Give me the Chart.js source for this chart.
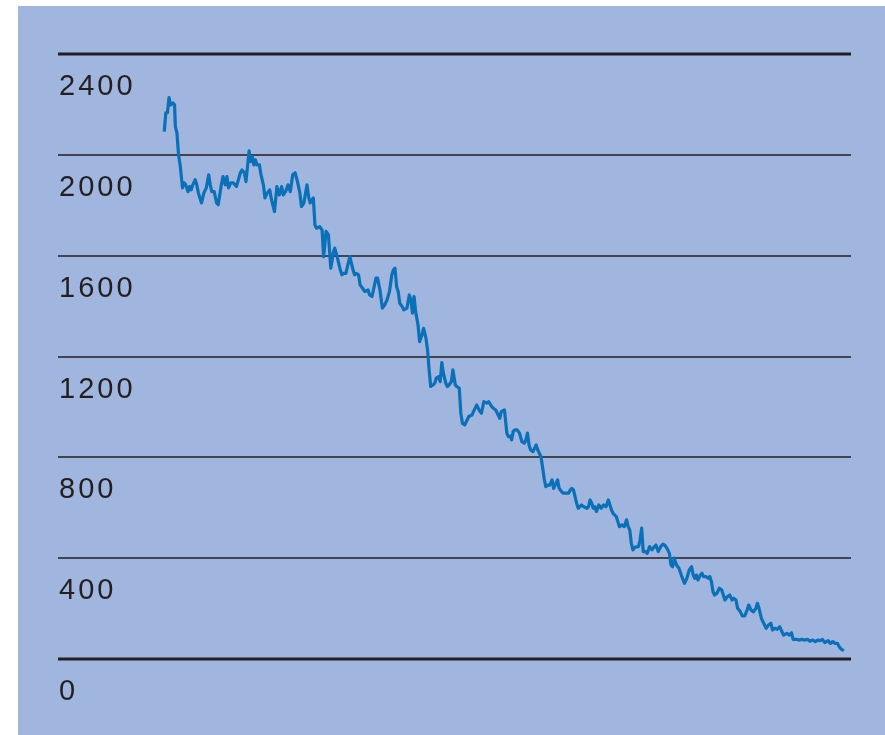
<!DOCTYPE html>
<html>
<head>
<meta charset="utf-8">
<script src="https://cdn.jsdelivr.net/npm/chart.js@4.4.1/dist/chart.umd.min.js"></script>
<style>
  html, body { margin: 0; padding: 0; background: #fff; }
  #wrap { position: relative; width: 885px; height: 735px; }
  #panel { position: absolute; left: 18px; top: 6px; right: 0; bottom: 0; background: #a0b6df; }
  #box { position: absolute; left: 0; top: 0; width: 885px; height: 735px; }
</style>
</head>
<body>
<div id="wrap">
  <div id="panel"></div>
  <div id="box"><canvas id="chart"></canvas></div>
</div>
<script>
// time position along the axis (0-100) and series value at that point
const period = [
  13.4,13.6,13.8,14.0,14.2,14.5,14.7,14.8,15.0,15.2,
  15.4,15.7,15.9,16.1,16.4,16.6,16.8,17.0,17.3,17.5,
  17.7,18.1,18.4,18.7,19.0,19.2,19.4,19.7,20.0,20.2,
  20.6,20.8,21.1,21.3,21.5,21.8,22.1,22.5,23.0,23.2,
  23.5,23.7,23.9,24.1,24.3,24.5,24.7,24.9,25.1,25.4,
  25.6,25.9,26.1,26.4,26.7,26.9,27.3,27.6,27.9,28.2,
  28.4,28.7,29.0,29.3,29.6,29.9,30.2,30.5,30.7,31.0,
  31.4,31.6,31.8,32.0,32.2,32.4,32.6,33.0,33.3,33.5,
  33.8,34.1,34.4,34.7,34.9,35.2,35.6,35.8,36.0,36.3,
  36.8,37.2,37.4,37.6,37.9,38.1,38.4,38.7,39.1,39.3,
  39.6,40.1,40.3,40.6,40.9,41.2,41.5,41.8,42.1,42.3,
  42.5,42.7,42.9,43.1,43.4,43.6,44.0,44.3,44.5,44.7,
  44.9,45.1,45.4,45.6,45.9,46.1,46.4,46.6,46.8,47.0,
  47.3,47.5,47.7,48.0,48.2,48.4,48.6,48.9,49.1,49.3,
  49.6,49.8,50.1,50.3,50.6,50.8,51.0,51.3,51.5,51.8,
  52.2,52.5,52.8,53.1,53.4,53.7,54.1,54.3,54.7,54.9,
  55.2,55.4,55.7,55.9,56.3,56.6,56.8,57.1,57.2,57.4,
  57.6,57.9,58.2,58.5,58.8,59.0,59.2,59.4,59.6,59.9,
  60.1,60.3,60.5,60.7,60.9,61.1,61.3,61.5,61.8,62.0,
  62.3,62.5,62.8,63.0,63.2,63.5,63.7,64.0,64.4,64.6,
  64.8,65.0,65.2,65.4,65.6,65.8,66.0,66.3,66.7,66.9,
  67.1,67.3,67.5,67.7,67.9,68.2,68.5,68.8,69.1,69.4,
  69.6,69.8,70.0,70.4,70.6,70.8,71.1,71.4,71.7,71.9,
  72.1,72.3,72.5,72.8,73.2,73.4,73.6,73.8,74.1,74.3,
  74.6,74.9,75.2,75.4,75.7,76.0,76.3,76.5,76.8,77.1,
  77.3,77.5,77.7,78.0,78.3,78.6,79.0,79.3,79.6,79.9,
  80.1,80.3,80.5,80.7,81.0,81.2,81.4,81.7,82.0,82.2,
  82.4,82.6,82.8,83.1,83.4,83.7,83.9,84.1,84.4,84.7,
  85.0,85.2,85.5,85.7,86.0,86.3,86.6,86.9,87.1,87.4,
  87.7,88.0,88.2,88.4,88.7,88.9,89.3,89.6,89.9,90.1,
  90.4,90.7,91.0,91.3,91.5,91.9,92.2,92.5,92.7,93.1,
  93.4,93.8,94.2,94.5,94.8,95.2,95.5,95.8,96.1,96.4,
  96.7,97.1,97.4,97.7,98.0,98.3,98.5,98.8,99.1
];
const values = [
  2092,2167,2167,2227,2198,2206,2198,2112,2087,2000,
  1960,1869,1889,1881,1854,1874,1861,1881,1901,1881,
  1849,1809,1849,1869,1921,1881,1854,1854,1809,1802,
  1881,1914,1881,1914,1869,1889,1889,1874,1929,1940,
  1929,1894,1954,2016,1973,1993,1960,1980,1960,1960,
  1921,1881,1829,1849,1861,1825,1775,1874,1841,1874,
  1841,1854,1881,1854,1921,1929,1894,1849,1795,1809,
  1881,1834,1809,1821,1829,1722,1709,1715,1702,1596,
  1696,1683,1550,1610,1630,1596,1544,1524,1530,1530,
  1596,1544,1524,1530,1524,1484,1471,1458,1464,1444,
  1438,1511,1511,1464,1392,1405,1425,1458,1524,1544,
  1550,1477,1458,1411,1398,1385,1392,1444,1425,1372,
  1438,1378,1325,1259,1286,1312,1273,1226,1147,1081,
  1087,1094,1114,1120,1100,1176,1134,1094,1081,1087,
  1100,1147,1087,1081,1074,975,935,929,942,962,
  968,988,1008,988,975,1021,1015,1021,1001,995,
  988,975,955,981,988,896,882,885,869,902,
  909,909,896,862,856,869,896,849,829,823,
  836,849,829,816,803,763,717,684,690,690,
  710,677,697,710,677,664,658,658,658,671,
  677,671,644,618,598,604,611,604,598,604,
  631,618,598,604,585,611,598,611,604,631,
  611,591,578,565,545,525,532,525,552,525,
  512,459,433,444,446,472,519,426,426,419,
  446,433,446,452,426,446,456,452,439,419,
  373,366,400,373,360,333,300,320,353,366,
  333,320,333,313,333,340,327,327,320,327,
  307,267,254,261,281,274,254,234,247,254,
  234,241,234,201,190,171,171,194,214,194,
  187,201,221,201,161,148,122,135,142,115,
  122,118,128,108,95,102,95,104,78,78,
  75,78,75,78,71,75,69,75,73,78,
  65,73,62,69,62,62,49,38,33
];
const tickValues = [0, 400, 800, 1200, 1600, 2000, 2400];
const tickLabels = ['0', '400', '800', '1200', '1600', '2000', '2400'];

// gridlines and labels sitting under each line
const gridAndLabels = {
  id: 'gridAndLabels',
  beforeDatasetsDraw(chart) {
    const ctx = chart.ctx;
    const y = chart.scales.y;
    const area = chart.chartArea;
    ctx.save();
    ctx.strokeStyle = '#231f20';
    tickValues.forEach((v, i) => {
      const py = Math.round(y.getPixelForValue(v));
      const edge = (i == 0 || i == tickValues.length - 1);
      ctx.lineWidth = edge ? 3 : 1.6;
      ctx.beginPath();
      ctx.moveTo(area.left, py);
      ctx.lineTo(area.right, py);
      ctx.stroke();
    });
    ctx.fillStyle = '#231f20';
    ctx.font = '29px "Liberation Sans", Arial, sans-serif';
    ctx.letterSpacing = '3px';
    ctx.textAlign = 'left';
    ctx.textBaseline = 'alphabetic';
    tickValues.forEach((v, i) => {
      const py = y.getPixelForValue(v);
      ctx.fillText(tickLabels[i], area.left + 1, py + 41);
    });
    ctx.restore();
  }
};

const points = period.map((t, i) => ({ x: t, y: values[i] }));

new Chart(document.getElementById('chart').getContext('2d'), {
  type: 'line',
  data: {
    datasets: [{
      data: points,
      borderColor: '#0a70b8',
      borderWidth: 3.2,
      borderJoinStyle: 'round',
      pointRadius: 0,
      tension: 0,
      fill: false
    }]
  },
  options: {
    responsive: true,
    maintainAspectRatio: false,
    animation: false,
    layout: { padding: { left: 58, right: 34, top: 54, bottom: 76 } },
    scales: {
      x: { type: 'linear', min: 0, max: 100, display: false },
      y: { min: 0, max: 2400, display: false }
    },
    plugins: {
      legend: { display: false },
      tooltip: { enabled: false }
    }
  },
  plugins: [gridAndLabels]
});
</script>
</body>
</html>
